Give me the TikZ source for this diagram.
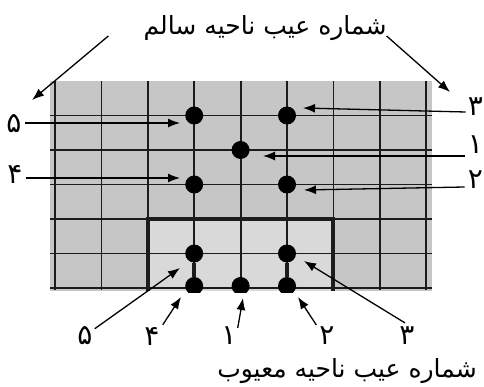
\documentclass[tikz,border=0pt]{standalone}
\usepackage{fontspec}
\newfontfamily\farsifont[Script=Arabic]{DejaVu Sans}
\TeXXeTstate=1
\usepackage{tikz}
\usetikzlibrary{arrows.meta, calc}
\definecolor{gridgray}{HTML}{C6C6C6}
\definecolor{boxgray}{HTML}{D9D9D9}
\definecolor{inkdark}{HTML}{1C1C1C}

\begin{document}
\begin{tikzpicture}[
  x=1pt, y=-1pt,
  gridline/.style={inkdark, line width=1.8pt},
  defect/.style={circle, fill=black, inner sep=0pt, minimum size=18pt},
  num/.style={font=\farsifont\fontsize{28}{28}\selectfont, inner sep=0pt},
  caption/.style={font=\farsifont\fontsize{25}{25}\selectfont, inner sep=0pt},
  arrow/.style={-{Latex[length=12pt, width=9pt]}, line width=1.3pt, color=black},
]
\useasboundingbox (0,0) rectangle (484,387);

\fill[gridgray] (50,81) rectangle (432,291);
\fill[boxgray] (147.8,219) rectangle (333.4,291);
\foreach \i in {0,...,8}
  \draw[gridline] ({55+46.4*\i},81) -- ({55+46.4*\i},290);
\foreach \j in {0,...,5}
  \draw[gridline] (50,{115.5+34.5*\j}) -- (432,{115.5+34.5*\j});
\draw[inkdark, line width=4pt] (147.8,291) -- (147.8,219) -- (333.4,219) -- (333.4,291);

\begin{scope}
\clip (0,0) rectangle (484,292);
\node[defect] (h5) at (194.2,115.5) {};
\node[defect] (h3) at (287,115.5) {};
\node[defect] (h1) at (240.6,150) {};
\node[defect] (h4) at (194.2,184.5) {};
\node[defect] (h2) at (287,184.5) {};
\node[defect] (f5) at (194.2,253.5) {};
\node[defect] (f3) at (287,253.5) {};
\node[defect] (f4) at (194.2,286) {};
\node[defect] (f1) at (240.6,286) {};
\node[defect] (f2) at (287,286) {};
\end{scope}
\draw[inkdark, line width=3.5pt] (f5) -- (f4);
\draw[inkdark, line width=3.5pt] (f3) -- (f2);

\node[caption] (healthy) at (265,28) {\beginR شماره عیب ناحیه سالم\endR};
\node[caption] (faulty) at (347,371) {\beginR شماره عیب ناحیه معیوب\endR};

\node[num] (l5) at (14,124) {۵};
\node[num] (l4) at (15,174) {۴};
\node[num, anchor=east] (r3) at (483,107) {۳};
\node[num, anchor=east] (r1) at (483,145) {۱};
\node[num, anchor=east] (r2) at (483,180) {۲};
\node[num] (b5) at (85,336) {۵};
\node[num] (b4) at (152,336) {۴};
\node[num] (b1) at (229,336) {۱};
\node[num] (b2) at (327,336) {۲};
\node[num] (b3) at (407,336) {۳};

\coordinate (t5) at (180,123);
\coordinate (t4) at (180,178);
\coordinate (t3) at (303,108);
\coordinate (t1) at (263,156);
\coordinate (t2) at (304,190);
\coordinate (s5) at (180,268);
\coordinate (s4) at (181,297);
\coordinate (s1) at (243,298);
\coordinate (s2) at (298,297);
\coordinate (s3) at (304,261);
\coordinate (hl) at (32,100);
\coordinate (hr) at (450,92);

\draw[arrow] ([xshift=-35pt, yshift=-8pt]healthy.west) -- (hl);
\draw[arrow] ([yshift=-8pt]healthy.east) -- (hr);
\draw[arrow] ([xshift=3pt, yshift=1pt]l5.east) -- (t5);
\draw[arrow] ([xshift=3pt, yshift=-4pt]l4.east) -- (t4);
\draw[arrow] ([xshift=-2pt, yshift=-5pt]r3.west) -- (t3);
\draw[arrow] ([xshift=-3pt, yshift=-11pt]r1.west) -- (t1);
\draw[arrow] ([xshift=-3pt, yshift=-7pt]r2.west) -- (t2);
\draw[arrow] ([xshift=2pt, yshift=-2pt]b5.north east) -- (s5);
\draw[arrow] ([xshift=3pt, yshift=2pt]b4.north east) -- (s4);
\draw[arrow] ([xshift=1pt, yshift=-1pt]b1.north east) -- (s1);
\draw[arrow] ([xshift=-3pt, yshift=2pt]b2.north west) -- (s2);
\draw[arrow] ([xshift=-2pt, yshift=4pt]b3.north) -- (s3);
\end{tikzpicture}
\end{document}
